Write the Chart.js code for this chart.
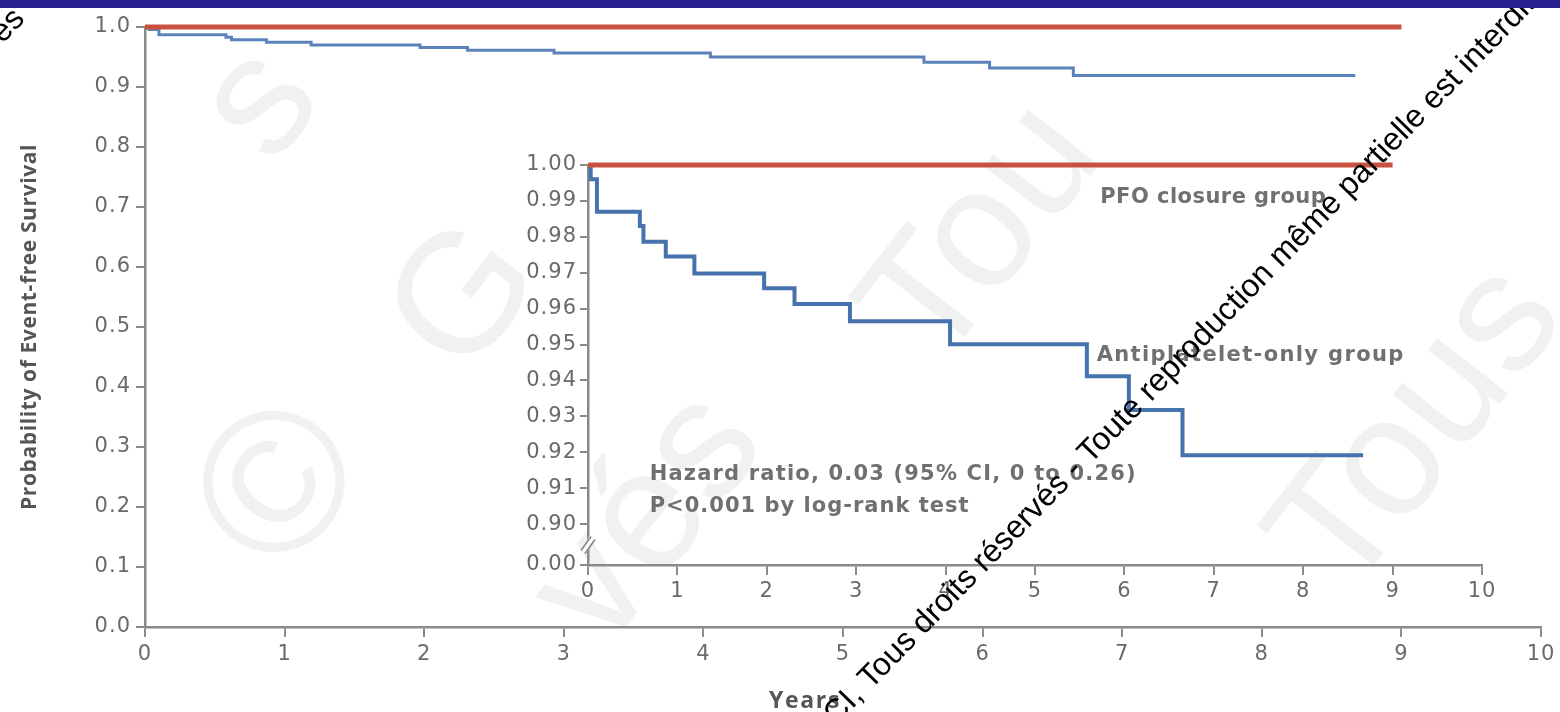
<!DOCTYPE html>
<html><head><meta charset="utf-8">
<script src="https://cdn.jsdelivr.net/npm/chart.js@4.4.1/dist/chart.umd.min.js"></script>
<style>
html,body{margin:0;padding:0;background:#fff;}
#wrap{position:relative;width:1560px;height:712px;overflow:hidden;background:#fff;}
#topbar{position:absolute;left:0;top:0;width:1560px;height:8px;background:#2a1f8e;z-index:5;}
canvas{position:absolute;left:0;top:0;}
</style></head><body>
<div id="wrap">
<canvas id="main" width="1560" height="712"></canvas>
<canvas id="inset" width="1560" height="712"></canvas>
<div id="topbar"></div>
</div>
<script>
// ---------- data ----------
const eventYears = [0, 0.03, 0.10, 0.58, 0.62, 0.87, 1.19, 1.97, 2.31, 2.93, 4.05, 5.58, 6.05, 6.65, 8.67];
const antiplateletSurvival = [1.0, 0.996, 0.987, 0.983, 0.9786, 0.9745, 0.9698, 0.9657, 0.9613, 0.9565, 0.9501, 0.9412, 0.9318, 0.9192, 0.9192];
const pfoYears = [0, 9];
const pfoSurvival = [1.0, 1.0];
const xTickValues = [0, 1, 2, 3, 4, 5, 6, 7, 8, 9, 10];
const mainYTickValues = [0, 0.1, 0.2, 0.3, 0.4, 0.5, 0.6, 0.7, 0.8, 0.9, 1.0];
const insetYTickValues = [0.90, 0.91, 0.92, 0.93, 0.94, 0.95, 0.96, 0.97, 0.98, 0.99, 1.00];
const insetBreakValue = 0.8886;   // axis position of the "0.00" label below the break
const insetBreakLabel = '0.00';
const yTitle = 'Probability of Event-free Survival';
const xTitle = 'Years';
const pfoLabel = 'PFO closure group';
const antiLabel = 'Antiplatelet-only group';
const statLines = ['Hazard ratio, 0.03 (95% CI, 0 to 0.26)', 'P<0.001 by log-rank test'];
const watermark = 'CI, Tous droits réservés - Toute reproduction même partielle est interdite';

// ---------- styles ----------
const RED = '#c8523f';
const BLUE_MAIN = '#5b82bb';
const BLUE_INSET = '#4672ad';
const AXIS = '#8a8a8a';
const TEXT = '#6a6a6a';
const TICKFONT = "'DejaVu Sans', sans-serif";
const FONT = "'Open Sans', 'DejaVu Sans', sans-serif";

const toXY = (xs, ys) => xs.map((x, i) => ({x, y: ys[i]}));

function baseDatasets(blueColor, blueWidth) {
  return [
    {label: pfoLabel, data: toXY(pfoYears, pfoSurvival), borderColor: RED, borderWidth: 5,
     pointRadius: 0, stepped: 'before', clip: false, fill: false},
    {label: antiLabel, data: toXY(eventYears, antiplateletSurvival), borderColor: blueColor, borderWidth: blueWidth,
     pointRadius: 0, stepped: 'before', clip: false, fill: false}
  ];
}

// draw text stretched to a given width with letter spacing
function fitText(ctx, text, x, y, width) {
  ctx.letterSpacing = '0px';
  const w = ctx.measureText(text).width;
  const n = Array.from(text).length;
  ctx.letterSpacing = Math.max(-1, (width - w) / n).toFixed(2) + 'px';
  ctx.fillText(text, x, y);
  ctx.letterSpacing = '0px';
}

const tickSpacing = {
  id: 'tickSpacing',
  beforeDraw(chart) { chart.ctx.letterSpacing = '1px'; },
  afterDraw(chart) { chart.ctx.letterSpacing = '0px'; }
};

const faintWatermark = {
  id: 'faintWatermark',
  beforeDraw(chart) {
    const ctx = chart.ctx;
    ctx.save();
    ctx.fillStyle = '#fff';
    ctx.fillRect(0, 0, chart.width, chart.height);
    ctx.fillStyle = '#f1f1f1';
    ctx.textAlign = 'center';
    ctx.textBaseline = 'middle';
    ctx.letterSpacing = '0px';
    const pieces = [
      ['©', 285, 490, 200],
      ['G', 468, 300, 170],
      ['s', 262, 105, 170],
      ['Tou', 985, 235, 170],
      ['Tous', 1420, 430, 170],
      ['vés', 650, 520, 170]
    ];
    pieces.forEach(([t, x, y, s]) => {
      ctx.save();
      ctx.translate(x, y);
      ctx.rotate(-52 * Math.PI / 180);
      ctx.font = s + "px 'Liberation Sans', Arial, sans-serif";
      ctx.fillText(t, 0, 0);
      ctx.restore();
    });
    ctx.restore();
  }
};

const mainTitles = {
  id: 'mainTitles',
  afterDraw(chart) {
    const ctx = chart.ctx;
    const ys = chart.scales.y;
    ctx.save();
    ctx.fillStyle = '#555';
    ctx.textBaseline = 'middle';
    ctx.textAlign = 'left';
    ctx.font = "bold 23px " + FONT;
    fitText(ctx, xTitle, 769, 701, 72);
    ctx.translate(30, (ys.top + ys.bottom) / 2);
    ctx.rotate(-Math.PI / 2);
    ctx.font = "bold 21px " + FONT;
    fitText(ctx, yTitle, -183, 0, 366);
    ctx.restore();
  }
};

new Chart(document.getElementById('main'), {
  type: 'line',
  data: {datasets: baseDatasets(BLUE_MAIN, 3)},
  plugins: [faintWatermark, tickSpacing, mainTitles],
  options: {
    responsive: false, animation: false, devicePixelRatio: 1,
    layout: {padding: {left: 0, top: 27, right: 19, bottom: 0}},
    plugins: {legend: {display: false}, tooltip: {enabled: false}},
    scales: {
      x: {
        type: 'linear', min: 0, max: 10,
        afterBuildTicks: s => { s.ticks = xTickValues.map(v => ({value: v})); },
        afterFit: s => { s.height = 85; },
        ticks: {color: TEXT, font: {family: TICKFONT, size: 21}, padding: 5, maxRotation: 0,
                callback: v => String(v)},
        grid: {drawOnChartArea: false, drawTicks: true, tickLength: 10, color: AXIS, lineWidth: 2},
        border: {color: AXIS, width: 2.5}
      },
      y: {
        type: 'linear', min: 0, max: 1,
        afterBuildTicks: s => { s.ticks = mainYTickValues.map(v => ({value: v})); },
        afterFit: s => { s.width = 145; },
        ticks: {color: TEXT, font: {family: TICKFONT, size: 21}, padding: 5,
                callback: v => Number(v).toFixed(1)},
        grid: {drawOnChartArea: false, drawTicks: true, tickLength: 9, color: AXIS, lineWidth: 2},
        border: {color: AXIS, width: 2.5}
      }
    }
  }
});

const insetExtras = {
  id: 'insetExtras',
  afterDraw(chart) {
    const ctx = chart.ctx;
    const xs = chart.scales.x, ys = chart.scales.y;
    ctx.save();
    ctx.letterSpacing = '0px';
    // axis break marks
    const bx = xs.left, by = ys.getPixelForValue((insetBreakValue + 0.90) / 2);
    ctx.strokeStyle = '#fff';
    ctx.lineWidth = 6;
    ctx.beginPath(); ctx.moveTo(bx - 4, by + 7); ctx.lineTo(bx + 4, by - 7); ctx.stroke();
    ctx.strokeStyle = AXIS; ctx.lineWidth = 1.8;
    ctx.beginPath();
    ctx.moveTo(bx - 7, by + 6); ctx.lineTo(bx + 3, by - 8);
    ctx.moveTo(bx - 3, by + 9); ctx.lineTo(bx + 7, by - 5);
    ctx.stroke();
    // annotations
    ctx.fillStyle = '#707070';
    ctx.font = "bold 21px " + TICKFONT;
    ctx.textAlign = 'left';
    ctx.textBaseline = 'middle';
    fitText(ctx, pfoLabel, xs.getPixelForValue(5.73), ys.getPixelForValue(0.9908), 226);
    fitText(ctx, antiLabel, xs.getPixelForValue(5.69), ys.getPixelForValue(0.9468), 308);
    fitText(ctx, statLines[0], xs.getPixelForValue(0.69), ys.getPixelForValue(0.9138), 487);
    fitText(ctx, statLines[1], xs.getPixelForValue(0.69), ys.getPixelForValue(0.9049), 320);
    ctx.restore();

    // black copyright watermark on top
    ctx.save();
    ctx.letterSpacing = '0px';
    ctx.fillStyle = '#000';
    ctx.font = "32px 'Liberation Sans', Arial, sans-serif";
    ctx.textBaseline = 'alphabetic';
    ctx.translate(836, 726);
    ctx.rotate(-45.8 * Math.PI / 180);
    ctx.textAlign = 'left';
    ctx.fillText(watermark, 0, 0);
    ctx.restore();
    ctx.save();
    ctx.letterSpacing = '0px';
    ctx.fillStyle = '#000';
    ctx.font = "32px 'Liberation Sans', Arial, sans-serif";
    ctx.translate(26, 20);
    ctx.rotate(-45.8 * Math.PI / 180);
    ctx.textAlign = 'right';
    ctx.fillText('Tous droits réservés', 0, 0);
    ctx.restore();
  }
};

new Chart(document.getElementById('inset'), {
  type: 'line',
  data: {datasets: baseDatasets(BLUE_INSET, 4)},
  plugins: [tickSpacing, insetExtras],
  options: {
    responsive: false, animation: false, devicePixelRatio: 1,
    layout: {padding: {left: 508, top: 165, right: 78, bottom: 87}},
    plugins: {legend: {display: false}, tooltip: {enabled: false}},
    scales: {
      x: {
        type: 'linear', min: 0, max: 10,
        afterBuildTicks: s => { s.ticks = xTickValues.map(v => ({value: v})); },
        afterFit: s => { s.height = 60; },
        ticks: {color: TEXT, font: {family: TICKFONT, size: 21}, padding: 4, maxRotation: 0,
                callback: v => String(v)},
        grid: {drawOnChartArea: false, drawTicks: true, tickLength: 10, color: AXIS, lineWidth: 2},
        border: {color: AXIS, width: 2.5}
      },
      y: {
        type: 'linear', min: insetBreakValue, max: 1.0,
        afterBuildTicks: s => { s.ticks = [insetBreakValue].concat(insetYTickValues).map(v => ({value: v})); },
        afterFit: s => { s.width = 80; },
        ticks: {color: TEXT, font: {family: TICKFONT, size: 21}, padding: 3,
                callback: v => (v < 0.895 ? insetBreakLabel : Number(v).toFixed(2))},
        grid: {drawOnChartArea: false, drawTicks: true, tickLength: 8, color: AXIS, lineWidth: 2},
        border: {color: AXIS, width: 2.5}
      }
    }
  }
});
</script>
</body></html>
